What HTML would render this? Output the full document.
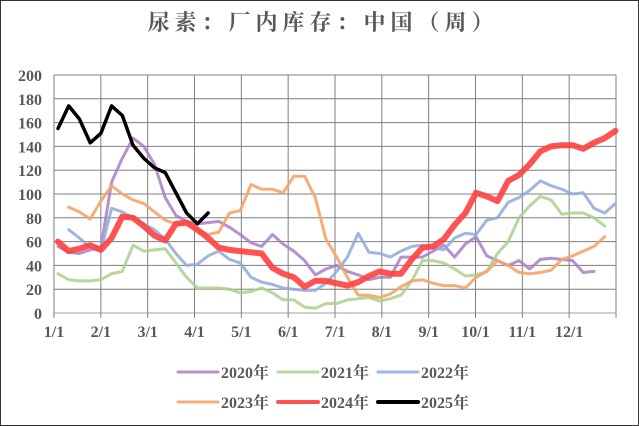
<!DOCTYPE html>
<html><head><meta charset="utf-8"><style>
body{margin:0;background:#fff}
#wrap{width:639px;height:426px;position:relative;box-sizing:border-box;border:1px solid #333;overflow:hidden}
svg text{font-family:"Liberation Serif","Noto Serif CJK SC",serif;font-weight:bold;fill:#595959}
</style></head><body>
<div id="wrap">
<svg id="chart" width="639" height="426">
<text x="322" y="29" text-anchor="middle" font-size="22" style="letter-spacing:5px">尿素：厂内库存：中国（周）</text>
<g id="grid"></g><g id="series"></g><g id="legend"></g>
</svg></div>
<script>
const months=["1/1","2/1","3/1","4/1","5/1","6/1","7/1","8/1","9/1","10/1","11/1","12/1"];
const yTicks=[0,20,40,60,80,100,120,140,160,180,200];
const years=["2020年","2021年","2022年","2023年","2024年","2025年"];
const s2020=[56,51,50,53,55,110,130,147,140,125,97,82,77,75,76,77,72,66,59,56,66,58,52,44,32,37,40,35,32,28,30,30,47,47,47,52,57,47,58,64,48,44,40,44,37,45,46,45,44,34,35];
const s2021=[33,28,27,27,28,33,35,57,52,53,54,42,30,21,21,21,20,17,18,21,17,11,11,5,4,8,8,11,12,13,10,12,15,27,44,44,42,37,31,32,35,50,60,80,90,98,95,83,84,84,80,73];
const s2022=[null,70,63,55,52,88,85,80,75,70,62,50,40,41,48,52,45,42,30,26,24,21,20,19,19,25,35,47,67,51,50,47,52,56,57,55,53,63,67,66,78,80,93,97,103,111,107,104,100,101,88,84,92];
const s2023=[null,89,85,79,94,107,100,95,92,85,78,75,75,70,66,68,84,86,108,104,104,101,115,115,97,62,47,30,15,15,13,16,22,27,28,25,23,23,21,30,35,44,40,34,33,34,36,45,48,52,56,64];
const s2024=[60,52,54,57,53,63,81,80,73,65,61,75,76,70,63,55,53,52,51,50,38,33,30,22,27,27,25,23,26,31,35,33,33,45,55,56,62,74,84,101,98,94,111,116,125,136,140,141,141,138,143,147,153];
const s2025=[155,174,163,143,151,174,166,141,130,122,118,101,84,75,84];
const colors=["#a77fc6","#a9d08e","#8eaadb","#f4a46a","#ff4040","#000000"];
const widths=[3,3,3,3,6,3.5];
const opac=[0.85,0.85,0.85,0.9,0.9,1];
const all=[s2020,s2021,s2022,s2023,s2024,s2025];
const X0=53,X1=615,Y0=312,Y1=74;
const ns="http://www.w3.org/2000/svg";
function y(v){return Y0-(v/200)*(Y0-Y1);}
function xw(i){return 57+i*10.72;}
function xm(i){return X0+i*(X1-X0)/12;}
function mk(t,a,p){const e=document.createElementNS(ns,t);for(const k in a)e.setAttribute(k,a[k]);p.appendChild(e);return e;}
const g=document.getElementById('grid');
yTicks.forEach(t=>{
 const l=mk('line',{x1:X0,x2:X1,y1:y(t),y2:y(t),stroke:t===0?'#d0d0d0':'#7f7f7f','stroke-width':t===0?2:1},g);
 
 
 const tx=mk('text',{x:41,y:y(t)+6,'text-anchor':'end','font-size':16},g);tx.textContent=t;
 
 
});
for(let i=0;i<=12;i++){
 const l=mk('line',{x1:xm(i),x2:xm(i),y1:Y1,y2:Y0+5,stroke:'#7f7f7f','stroke-width':1},g);
 
 
 if(i<12){const tx=mk('text',{x:xm(i),y:336,'text-anchor':'middle','font-size':16},g);tx.textContent=months[i];
 
 }
}
const sg=document.getElementById('series');
all.forEach((s,k)=>{
 let d='',pen=false;
 s.forEach((v,i)=>{if(v===null){pen=false;return;}d+=(pen?'L':'M')+xw(i).toFixed(1)+','+y(v).toFixed(1);pen=true;});
 const p=mk('path',{d:d,fill:'none',stroke:colors[k],'stroke-width':widths[k],'stroke-opacity':opac[k],'stroke-linejoin':'round','stroke-linecap':'round'},sg);
 
 
});
const lg=document.getElementById('legend');
years.forEach((n,k)=>{
 const col=k%3,row=Math.floor(k/3);
 const lx=177+col*100,ly=371+row*30;
 const l=mk('line',{x1:lx,x2:lx+40,y1:ly,y2:ly,stroke:colors[k],'stroke-width':k===4||k===5?4:3,'stroke-opacity':opac[k],'stroke-linecap':'round'},lg);
 
 
 const t=mk('text',{x:lx+43,y:ly+6,'font-size':16},lg);t.textContent=n;
 
 
});
</script>
</body></html>
